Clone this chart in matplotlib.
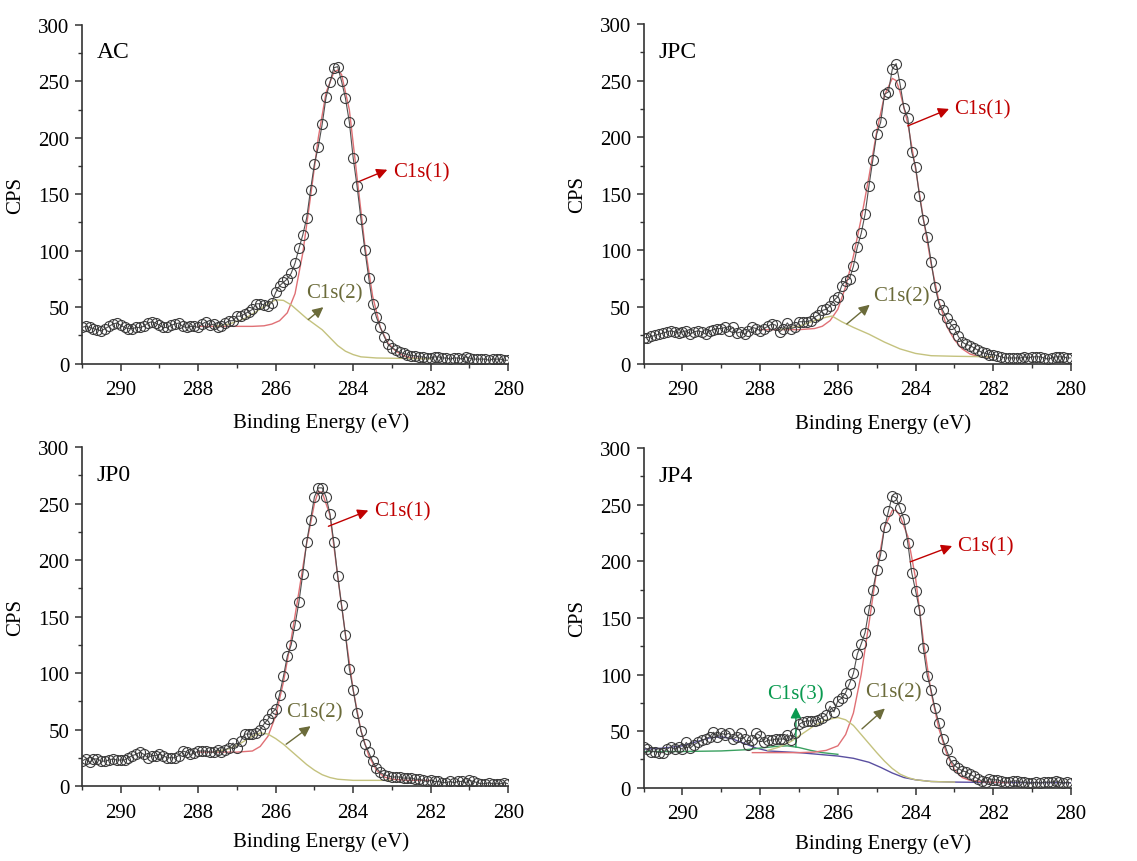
import numpy as np
import matplotlib
matplotlib.use('Agg')
import matplotlib.pyplot as plt
from matplotlib.ticker import MultipleLocator

plt.rcParams['font.family'] = ['Liberation Serif', 'DejaVu Serif']

# binding energy grid of the measured points, 291.0 -> 280.0 eV, 0.1 eV step
energy = np.linspace(291.0, 280.0, 111)

ac_cps = [32, 33, 32, 31, 30, 29, 31, 33, 35, 36,
          34, 32, 31, 31, 32, 32, 33, 36, 37, 36,
          34, 32, 32, 34, 35, 36, 33, 32, 33, 33,
          32, 35, 37, 34, 35, 32, 33, 36, 38, 38,
          42, 42, 44, 46, 48, 53, 53, 52, 51, 54,
          63, 69, 72, 75, 80, 89, 102, 114, 129, 154,
          177, 192, 212, 236, 249, 262, 263, 250, 235, 214,
          182, 157, 128, 101, 76, 53, 41, 32, 24, 17,
          14, 12, 10, 9, 8, 7, 7, 6, 6, 5,
          5, 6, 6, 5, 5, 4, 5, 5, 4, 6,
          5, 4, 4, 4, 4, 3, 4, 4, 4, 3, 3]

jpc_cps = [23, 23, 24, 25, 26, 27, 28, 29, 28, 27,
           28, 29, 26, 28, 29, 28, 26, 29, 30, 31,
           31, 32, 29, 32, 27, 28, 26, 29, 32, 31,
           29, 31, 33, 35, 34, 28, 31, 36, 31, 32,
           37, 37, 37, 38, 41, 43, 47, 48, 51, 56,
           59, 69, 73, 75, 86, 103, 115, 132, 157, 180,
           203, 213, 238, 240, 260, 265, 247, 226, 217, 187,
           174, 148, 127, 112, 90, 68, 53, 47, 40, 35,
           31, 24, 19, 17, 16, 14, 12, 10, 9, 8,
           8, 7, 6, 5, 5, 5, 5, 5, 6, 5,
           6, 6, 6, 5, 4, 5, 6, 6, 6, 5, 5]

jp0_cps = [22, 24, 21, 24, 24, 22, 22, 23, 24, 23,
           23, 23, 25, 27, 28, 30, 28, 25, 27, 27,
           28, 27, 25, 25, 25, 27, 31, 30, 28, 29,
           31, 31, 31, 30, 30, 32, 30, 32, 34, 38,
           34, 40, 46, 46, 46, 47, 50, 55, 59, 65,
           68, 81, 97, 115, 125, 143, 163, 188, 216, 236,
           256, 264, 264, 256, 241, 216, 186, 160, 134, 104,
           85, 65, 49, 37, 30, 22, 16, 12, 10, 9,
           8, 8, 8, 7, 7, 7, 6, 6, 5, 4,
           5, 4, 4, 3, 3, 4, 3, 4, 4, 3,
           5, 4, 3, 2, 2, 3, 2, 2, 2, 3, 2]

jp4_cps = [36, 34, 32, 32, 31, 31, 34, 36, 34, 36,
           34, 40, 35, 38, 40, 42, 43, 45, 49, 45,
           48, 47, 48, 43, 45, 48, 43, 38, 42, 48,
           46, 40, 42, 42, 43, 43, 43, 47, 42, 48,
           56, 58, 59, 59, 59, 60, 62, 64, 72, 67,
           77, 79, 84, 92, 101, 118, 127, 137, 157, 175,
           192, 206, 230, 244, 258, 256, 247, 237, 216, 190,
           174, 157, 123, 99, 86, 70, 57, 43, 33, 24,
           20, 17, 15, 14, 12, 10, 8, 6, 5, 8,
           7, 7, 6, 5, 5, 6, 6, 5, 5, 4,
           4, 5, 4, 5, 5, 5, 6, 5, 4, 5, 4]

# fitted components (energy, CPS)
ac_c1_e = [288.0, 286.6, 286.3, 286.1, 285.9, 285.7, 285.5, 285.3, 285.1, 284.9, 284.7, 284.5,
           284.4, 284.3, 284.1, 283.9, 283.7, 283.5, 283.3, 283.1, 282.9, 282.7, 282.5, 282.2]
ac_c1 = [33, 33, 33.5, 35, 38, 45, 62, 98, 148, 200, 240, 258,
         260, 256, 225, 165, 105, 60, 32, 18, 11, 7, 5, 4.5]
ac_c2_e = [287.6, 287.2, 286.8, 286.5, 286.2, 286.0, 285.8, 285.6, 285.4, 285.2,
           285.0, 284.8, 284.6, 284.4, 284.2, 284.0, 283.8, 283.4, 282.5, 282.0]
ac_c2 = [33, 35, 40, 46, 53, 56.5, 56, 52, 46, 40,
         35, 30, 23, 16, 11, 8, 6, 5, 4.5, 4.2]

jpc_c1_e = [288.0, 287.0, 286.6, 286.4, 286.2, 286.0, 285.8, 285.6, 285.4, 285.2, 285.0, 284.8,
            284.6, 284.5, 284.4, 284.2, 284.0, 283.8, 283.6, 283.4, 283.2, 283.0, 282.8, 282.6,
            282.4, 282.0]
jpc_c1 = [30, 30, 31, 33, 38, 48, 68, 95, 128, 165, 205, 237,
          252, 250, 240, 212, 172, 128, 88, 55, 33, 21, 13, 8.5,
          6.5, 5.5]
jpc_c2_e = [287.5, 287.0, 286.6, 286.3, 286.15, 285.9, 285.6, 285.2, 284.8, 284.4,
            284.0, 283.6, 283.0, 282.0]
jpc_c2 = [30, 33, 38, 41, 42, 37, 32, 26, 19, 13,
          9, 7, 6.5, 6]

jp0_c1_e = [288.0, 287.0, 286.6, 286.4, 286.2, 286.0, 285.8, 285.6, 285.4, 285.2, 285.0, 284.9,
            284.8, 284.6, 284.4, 284.2, 284.0, 283.8, 283.6, 283.4, 283.2, 283.0, 282.6, 282.0]
jp0_c1 = [30, 30, 31, 35, 44, 62, 92, 130, 172, 215, 250, 261,
          260, 240, 186, 134, 85, 49, 27, 14, 8, 6, 5, 5]
jp0_c2_e = [287.6, 287.2, 286.9, 286.6, 286.4, 286.2, 286.0, 285.8, 285.6, 285.4,
            285.2, 285.0, 284.8, 284.6, 284.4, 284.0, 283.0]
jp0_c2 = [30, 33, 38, 44, 47, 46, 42, 37, 31, 25,
          19, 14, 10, 7.5, 6, 5, 5]

jp4_c1_e = [288.2, 287.0, 286.6, 286.3, 286.0, 285.8, 285.6, 285.4, 285.2, 285.0, 284.8, 284.6,
            284.5, 284.4, 284.2, 284.0, 283.8, 283.6, 283.4, 283.2, 283.0, 282.8, 282.6, 282.2,
            281.6]
jp4_c1 = [31, 31, 31.5, 33, 37, 47, 66, 100, 145, 192, 230, 245,
          245, 240, 222, 185, 130, 84, 52, 30, 16, 9, 6.5, 5,
          4.5]
jp4_c2_e = [287.8, 287.5, 287.2, 286.9, 286.6, 286.3, 286.0, 285.8, 285.6, 285.4,
            285.2, 285.0, 284.8, 284.6, 284.4, 284.2, 284.0, 283.6, 283.0]
jp4_c2 = [33, 36, 41, 48, 55, 60, 62, 60, 55, 47,
          39, 31, 23.5, 17, 12, 9, 7, 5.5, 5]
jp4_c3_e = [291.0, 290.0, 289.0, 288.4, 288.0, 287.6, 287.3, 287.0, 286.7, 286.4, 286.0]
jp4_c3 = [32, 32, 32.5, 33.5, 35, 36.5, 37, 35.5, 33, 31, 29.5]
jp4_bg_e = [291.0, 290.5, 290.0, 289.6, 289.3, 289.0, 288.7, 288.4, 288.1, 287.8, 287.0,
            286.0, 285.6, 285.2, 284.9, 284.6, 284.3, 284.0, 283.6, 283.0, 282.0, 280.0]
jp4_bg = [34, 35, 37, 41, 44, 45, 43, 39, 35, 32.5, 31,
          28, 26, 22.5, 18, 13, 9, 7, 5.5, 5, 4.6, 4.4]

panel_names = ['AC', 'JPC', 'JP0', 'JP4']

RED = '#e07075'
OLIVE = '#c4c27e'
GREEN = '#3aa060'
PURPLE = '#5a4fa0'
RED_T = '#c00000'
OLIVE_T = '#6b6b3a'
GREEN_T = '#0a9a50'

fig = plt.figure(figsize=(11.37, 8.62), dpi=100)

boxes = [(0.072, 0.577, 0.375, 0.393),
         (0.566, 0.577, 0.376, 0.394),
         (0.072, 0.087, 0.375, 0.393),
         (0.566, 0.085, 0.376, 0.394)]
xlabel_y = [-0.145, -0.145, -0.135, -0.135]

cps_all = [ac_cps, jpc_cps, jp0_cps, jp4_cps]
comps = [
    [(ac_c1_e, ac_c1, RED), (ac_c2_e, ac_c2, OLIVE)],
    [(jpc_c1_e, jpc_c1, RED), (jpc_c2_e, jpc_c2, OLIVE)],
    [(jp0_c1_e, jp0_c1, RED), (jp0_c2_e, jp0_c2, OLIVE)],
    [(jp4_bg_e, jp4_bg, PURPLE), (jp4_c3_e, jp4_c3, GREEN),
     (jp4_c1_e, jp4_c1, RED), (jp4_c2_e, jp4_c2, OLIVE)],
]

# annotations: (text, text xy, arrow start, arrow end, colour)
notes = [
    [('C1s(1)', (282.96, 170), (283.87, 161), (283.12, 171.7), RED_T),
     ('C1s(2)', (285.21, 63), (285.16, 39), (284.77, 50), OLIVE_T)],
    [('C1s(1)', (283.0, 225), (284.2, 210), (283.14, 225), RED_T),
     ('C1s(2)', (285.1, 60), (285.77, 35), (285.18, 52), OLIVE_T)],
    [('C1s(1)', (283.45, 244), (284.64, 230), (283.61, 244), RED_T),
     ('C1s(2)', (285.73, 65.5), (285.73, 37), (285.1, 53), OLIVE_T)],
    [('C1s(1)', (282.93, 213.5), (284.14, 199.5), (283.06, 213.5), RED_T),
     ('C1s(2)', (285.3, 85), (285.38, 52), (284.79, 70), OLIVE_T),
     ('C1s(3)', (287.83, 83), (287.08, 36), (287.08, 71), GREEN_T)],
]

for i in range(4):
    ax = fig.add_axes(boxes[i])
    for e, y, c in comps[i]:
        ax.plot(e, y, color=c, lw=1.0, zorder=2)
    ax.plot(energy, cps_all[i], color='#505050', lw=0.8, zorder=3)
    ax.plot(energy, cps_all[i], ls='none', marker='o', ms=7.2, mfc='none',
            mec='#3c3c3c', mew=0.8, zorder=4)

    for txt, xy, a0, a1, c in notes[i]:
        ax.annotate('', xy=a1, xytext=a0,
                    arrowprops=dict(arrowstyle='-|>', color=c, lw=1.0,
                                    mutation_scale=16, shrinkA=0, shrinkB=0))
        ax.text(xy[0], xy[1], txt, color=c, fontsize=15, ha='left', va='center')

    ax.text(290.62, 276, panel_names[i], fontsize=17, ha='left', va='center')

    ax.set_xlim(291, 280)
    ax.set_ylim(0, 300)
    ax.xaxis.set_major_locator(MultipleLocator(2))
    ax.xaxis.set_minor_locator(MultipleLocator(1))
    ax.yaxis.set_major_locator(MultipleLocator(50))
    ax.yaxis.set_minor_locator(MultipleLocator(25))
    ax.tick_params(which='major', direction='out', length=5, width=1.1,
                   labelsize=15, color='#333333', pad=4)
    ax.tick_params(axis='x', which='major', pad=7)
    ax.tick_params(which='minor', direction='out', length=3, width=1.0,
                   color='#333333')
    for s in ['top', 'right']:
        ax.spines[s].set_visible(False)
    for s in ['left', 'bottom']:
        ax.spines[s].set_linewidth(1.2)
        ax.spines[s].set_color('#333333')
    ax.set_xlabel('Binding Energy (eV)', fontsize=15)
    ax.set_ylabel('CPS', fontsize=15)
    ax.xaxis.set_label_coords(0.56, xlabel_y[i])
    ax.yaxis.set_label_coords(-0.132, 0.5)

fig.savefig('out.png', dpi=100)
